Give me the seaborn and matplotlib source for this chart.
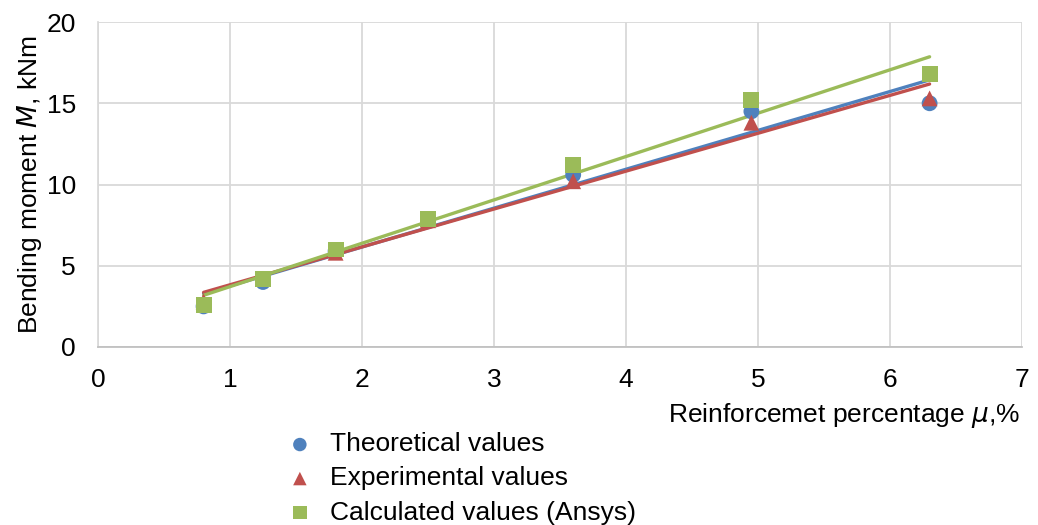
import numpy as np
import pandas as pd
import matplotlib
matplotlib.use("Agg")
import matplotlib.pyplot as plt
import seaborn as sns

mu = [0.8, 1.25, 1.8, 2.5, 3.6, 4.95, 6.3]
theoretical = [2.5, 4.0, 5.9, 7.8, 10.6, 14.5, 15.0]
experimental = [2.8, 4.2, 5.8, 7.8, 10.2, 13.8, 15.3]
calculated = [2.6, 4.2, 6.0, 7.9, 11.2, 15.2, 16.8]

series_names = ["Theoretical values", "Experimental values", "Calculated values (Ansys)"]
colors = ["#4F81BD", "#C0504D", "#9BBB59"]
markers = ["o", "^", "s"]

sns.set_theme(style="white")
plt.rcParams['font.family'] = ['Liberation Sans', 'DejaVu Sans']
plt.rcParams['text.color'] = 'black'
plt.rcParams['axes.labelcolor'] = 'black'

fig = plt.figure(figsize=(10.38, 5.25), dpi=100)
ax = fig.add_axes([98/1038, 1-347/525, (1022-98)/1038, (347-22)/525])

for name, vals, c, m in zip(series_names, [theoretical, experimental, calculated], colors, markers):
    df = pd.DataFrame({"mu": mu, "M": vals})
    sns.regplot(data=df, x="mu", y="M", scatter=False, ci=None, ax=ax,
                line_kws=dict(color=c, lw=2.4), truncate=True)

for name, vals, c, m in zip(series_names, [theoretical, experimental, calculated], colors, markers):
    df = pd.DataFrame({"mu": mu, "M": vals})
    sns.scatterplot(data=df, x="mu", y="M", ax=ax, color=c, marker=m, s=130,
                    edgecolor="none", label=name, zorder=3)

ax.set_xlim(0, 7)
ax.set_ylim(0, 20)
ax.set_xticks(range(0, 8))
ax.set_yticks([0, 5, 10, 15, 20])
ax.grid(True, color="#d9d9d9", lw=1.3)
for s in ["top", "right"]:
    ax.spines[s].set_visible(False)
ax.spines["left"].set_color("#d9d9d9")
ax.spines["bottom"].set_color("#bfbfbf")
ax.tick_params(axis="x", labelsize=19, colors="black", length=0, pad=15)
ax.tick_params(axis="y", labelsize=19, colors="black", length=0, pad=16)
ax.set_xlabel("")
ax.set_ylabel("Bending moment $\\mathit{M}$, kNm", fontsize=19, labelpad=2, color="black")
fig.text(1020/1038, 1-415/525, "Reinforcemet percentage $\\mathit{\\mu}$,%", fontsize=19,
         ha="right", va="center", color="black")

leg = ax.legend(loc="upper left", bbox_to_anchor=(255/1038, 1-414/525),
                bbox_transform=fig.transFigure, frameon=False, fontsize=19,
                handletextpad=0.15, labelspacing=0.38, markerscale=0.85,
                borderpad=0.2)
for t in leg.get_texts():
    t.set_color("black")

fig.savefig("out.png", dpi=100)
